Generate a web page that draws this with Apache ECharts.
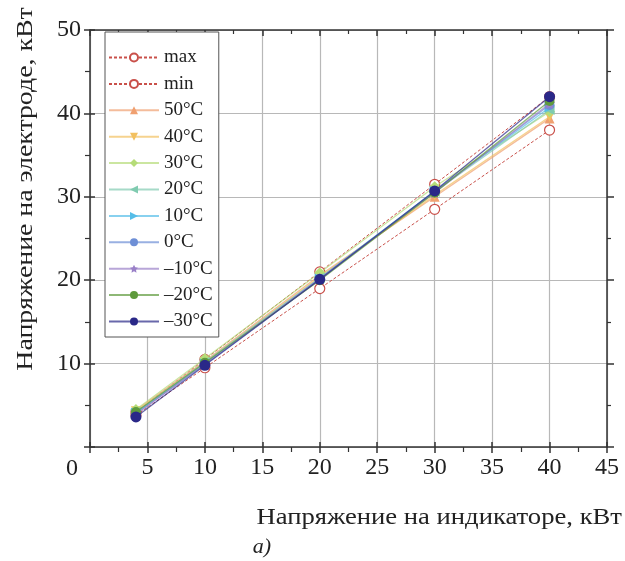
<!DOCTYPE html>
<html><head><meta charset="utf-8">
<script src="https://cdn.jsdelivr.net/npm/echarts@6/dist/echarts.min.js"></script>
<style>html,body{margin:0;padding:0;background:#fff}#c{width:625px;height:561px}</style>
</head><body><div id="c"></div>
<script>
const xValues = [4, 10, 20, 30, 40];
const seriesNames = ['max', 'min', '50°C', '40°C', '30°C', '20°C', '10°C', '0°C', '–10°C', '–20°C', '–30°C'];
const vMax  = [4.2, 10.5, 21.0, 31.5, 42.0];
const vMin  = [3.8, 9.5, 19.0, 28.5, 38.0];
const v50   = [4.4, 10.3, 20.6, 30.0, 39.4];
const v40   = [4.3, 10.2, 20.4, 30.2, 39.6];
const v30   = [4.5, 10.6, 20.9, 31.2, 40.2];
const v20   = [4.2, 10.2, 20.3, 30.6, 40.4];
const v10   = [4.1, 10.0, 20.2, 30.7, 40.7];
const v0    = [4.0, 9.9, 20.1, 30.6, 41.0];
const vM10  = [3.9, 10.0, 20.2, 30.5, 41.2];
const vM20  = [4.2, 10.1, 20.0, 30.5, 41.5];
const vM30  = [3.6, 9.8, 20.1, 30.7, 42.0];
const xTicks = [0, 5, 10, 15, 20, 25, 30, 35, 40, 45];
const yTicks = [0, 10, 20, 30, 40, 50];

const allValues = [vMax, vMin, v50, v40, v30, v20, v10, v0, vM10, vM20, vM30];
const colors = ['#c9504a', '#c9504a', '#f0a070', '#f2c060', '#b5dc78', '#80cbb0', '#55bde8', '#6e8fd6', '#9a80c8', '#5e9a3c', '#2a2888'];
const starPath = 'path://M0,-10L2.9,-4L9.5,-3.1L4.8,1.6L5.9,8.1L0,5.1L-5.9,8.1L-4.8,1.6L-9.5,-3.1L-2.9,-4Z';
const symbols = ['circle', 'circle', 'triangle', 'triangle', 'diamond', 'triangle', 'triangle', 'circle', starPath, 'circle', 'circle'];
const rotates = [0, 0, 0, 180, 0, 90, -90, 0, 0, 0, 0];
const sizes = [10, 10, 10, 10, 11, 10, 10, 10, 11, 10, 11];

const serif = 'Liberation Serif';
const series = allValues.map((vals, i) => {
  const dashed = i < 2;
  return {
    name: seriesNames[i],
    type: 'line',
    xAxisIndex: 0, yAxisIndex: 0,
    data: xValues.map((x, j) => [x, vals[j]]),
    symbol: symbols[i],
    symbolRotate: rotates[i],
    symbolSize: sizes[i],
    showAllSymbol: true,
    lineStyle: { color: colors[i], width: dashed ? 1 : 1.3, type: dashed ? [3, 2] : 'solid', opacity: dashed ? 1 : 0.7 },
    itemStyle: dashed ? { color: '#fff', borderColor: colors[i], borderWidth: 1.2 } : { color: colors[i], borderColor: colors[i], borderWidth: 0 },
    emphasis: { disabled: true },
    z: 2 + i
  };
});

const chart = echarts.init(document.getElementById('c'), null, { renderer: 'canvas' });
const grid = { left: 90, right: 18, top: 30, bottom: 114 };
const axisLineStyle = { color: '#333', width: 1.5 };
const baseX = { type: 'value', min: 0, max: 45, interval: 5 };
const baseY = { type: 'value', min: 0, max: 50, interval: 10 };
chart.setOption({
  animation: false,
  backgroundColor: '#fff',
  grid: grid,
  legend: {
    left: 105, top: 32, orient: 'vertical',
    data: seriesNames,
    itemWidth: 50, itemHeight: 10, itemGap: 7.4,
    padding: [16, 6, 6, 3],
    backgroundColor: '#fff', borderColor: '#555', borderWidth: 1,
    textStyle: { fontFamily: serif, fontSize: 19, color: '#222' }
  },
  xAxis: [
    Object.assign({}, baseX, {
      position: 'bottom',
      axisLine: { show: true, onZero: false, lineStyle: axisLineStyle },
      axisTick: { show: true, length: 6, lineStyle: { color: '#333', width: 1.5 } },
      minorTick: { show: true, splitNumber: 2, length: 5, lineStyle: { color: '#333', width: 1.2 } },
      axisLabel: { fontFamily: serif, fontSize: 24, color: '#222', margin: 9, formatter: v => v === 0 ? '' : String(v) },
      splitLine: { show: true, lineStyle: { color: '#b8b8b8', width: 1.2 } }
    }),
    Object.assign({}, baseX, {
      position: 'top',
      axisLine: { show: true, onZero: false, lineStyle: axisLineStyle },
      axisTick: { show: true, inside: true, length: 6, lineStyle: { color: '#333', width: 1.5 } },
      minorTick: { show: true, splitNumber: 2, length: 4, lineStyle: { color: '#333', width: 1.2 } },
      axisLabel: { show: false }, splitLine: { show: false }
    }),
    Object.assign({}, baseX, {
      position: 'bottom',
      axisLine: { show: false, onZero: false },
      axisTick: { show: true, inside: true, length: 5, lineStyle: { color: '#333', width: 1.5 } },
      axisLabel: { show: false }, splitLine: { show: false }
    })
  ],
  yAxis: [
    Object.assign({}, baseY, {
      position: 'left',
      axisLine: { show: true, onZero: false, lineStyle: axisLineStyle },
      axisTick: { show: true, length: 6, lineStyle: { color: '#333', width: 1.5 } },
      minorTick: { show: true, splitNumber: 2, length: 5, lineStyle: { color: '#333', width: 1.2 } },
      axisLabel: { fontFamily: serif, fontSize: 24, color: '#222', margin: 9, formatter: v => (v === 0 ? '' : String(v)) },
      splitLine: { show: true, lineStyle: { color: '#b8b8b8', width: 1.2 } }
    }),
    Object.assign({}, baseY, {
      position: 'right',
      axisLine: { show: true, onZero: false, lineStyle: axisLineStyle },
      axisTick: { show: true, length: 7, lineStyle: { color: '#333', width: 1.5 } },
      minorTick: { show: true, splitNumber: 2, length: 4, lineStyle: { color: '#333', width: 1.2 } },
      axisLabel: { show: false }, splitLine: { show: false }
    }),
    Object.assign({}, baseY, {
      position: 'left',
      axisLine: { show: false, onZero: false },
      axisTick: { show: true, inside: true, length: 5, lineStyle: { color: '#333', width: 1.5 } },
      axisLabel: { show: false }, splitLine: { show: false }
    })
  ],
  graphic: [
    { type: 'text', x: 26, y: 189, rotation: Math.PI / 2, scaleX: 1.16, style: { text: 'Напряжение на электроде, кВт', fontFamily: serif, fontSize: 24, fill: '#222', textAlign: 'center', textVerticalAlign: 'middle' } },
    { type: 'text', x: 622, y: 518, scaleX: 1.11, style: { text: 'Напряжение на индикаторе, кВт', fontFamily: serif, fontSize: 24, fill: '#222', textAlign: 'right', textVerticalAlign: 'middle' } },
    { type: 'text', x: 262, y: 547, style: { text: 'a)', fontFamily: serif, fontSize: 22, fontStyle: 'italic', fill: '#222', textAlign: 'center', textVerticalAlign: 'middle' } },
    { type: 'text', x: 72, y: 469, style: { text: '0', fontFamily: serif, fontSize: 24, fill: '#222', textAlign: 'center', textVerticalAlign: 'middle' } }
  ],
  series: series
});
</script></body></html>
